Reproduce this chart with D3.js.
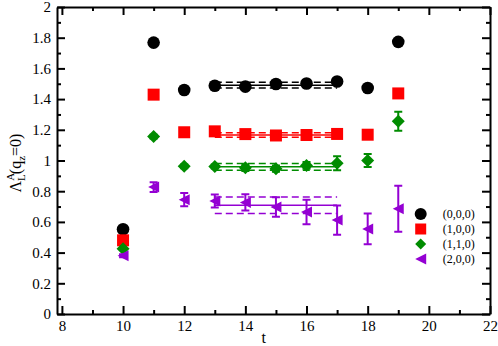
<!DOCTYPE html>
<html>
<head>
    <script src="https://d3js.org/d3.v7.min.js"></script>
    <style>
        body { margin: 0; background: #fff; }
        svg text { font-family: "Liberation Serif", "Times New Roman", "DejaVu Serif", serif; }
        .axis path, .axis line { stroke: #000; stroke-width: 2; }
        .axis text { font-size: 15px; fill: #000; }
        .legend text { font-size: 12px; }
    </style>
</head>
<body>
    <svg width="498" height="346"></svg>
    <script>
        // data
        var tValues = [10, 11, 12, 13, 14, 15, 16, 17, 18, 19];
        var labels = ["(0,0,0)", "(1,0,0)", "(1,1,0)", "(2,0,0)"];
        var v000 = [0.552, 1.768, 1.459, 1.487, 1.481, 1.498, 1.502, 1.515, 1.472, 1.773];
        var e000 = [0.004, 0.005, 0.004, 0.004, 0.004, 0.004, 0.004, 0.005, 0.005, 0.006];
        var v100 = [0.480, 1.429, 1.184, 1.190, 1.172, 1.163, 1.166, 1.173, 1.168, 1.437];
        var e100 = [0.004, 0.005, 0.005, 0.005, 0.005, 0.006, 0.006, 0.008, 0.008, 0.010];
        var v110 = [0.425, 1.156, 0.962, 0.961, 0.952, 0.947, 0.968, 0.982, 1.000, 1.255];
        var e110 = [0.008, 0.012, 0.012, 0.013, 0.020, 0.020, 0.022, 0.045, 0.043, 0.062];
        var v200 = [0.380, 0.827, 0.745, 0.736, 0.727, 0.697, 0.664, 0.612, 0.554, 0.686];
        var e200 = [0.010, 0.032, 0.043, 0.043, 0.053, 0.063, 0.080, 0.095, 0.100, 0.150];
        // plateau fits over t = 13..17
        var fitRange = [13, 17];
        var fitValues = [1.491, 1.166, 0.959, 0.708];
        var fitErrors = [0.018, 0.014, 0.022, 0.054];

        var colors = ["#000000", "#ff0000", "#008c00", "#9400d3"];
        var shapes = ["circle", "square", "diamond", "triangle"];
        var seriesVals = [v000, v100, v110, v200];
        var seriesErrs = [e000, e100, e110, e200];

        var serif = "Liberation Serif, Times New Roman, DejaVu Serif, serif";

        var svg = d3.select("svg"),
            margin = {top: 7, right: 8, bottom: 32, left: 57},
            width = +svg.attr("width") - margin.left - margin.right,
            height = +svg.attr("height") - margin.top - margin.bottom;

        var x = d3.scaleLinear().domain([7.84, 22]).range([0, width]);
        var y = d3.scaleLinear().domain([0, 2]).range([height, 0]);

        var g = svg.append("g").attr("transform", "translate(" + margin.left + "," + margin.top + ")");

        var xMajor = d3.range(8, 22.01, 2), xMinor = d3.range(9, 22, 2);
        var yMajor = d3.range(0, 2.01, 0.2), yMinor = d3.range(0.1, 2, 0.2);

        // marker paths, r = half size in px
        function symbol(shape, r) {
            if (shape === "circle") return d3.symbol().type(d3.symbolCircle).size(Math.PI * r * r)();
            if (shape === "square") return "M" + -r + "," + -r + "H" + r + "V" + r + "H" + -r + "Z";
            if (shape === "diamond") return "M0," + -r + "L" + r + ",0L0," + r + "L" + -r + ",0Z";
            return "M" + -r + ",0L" + r + "," + -r + "L" + r + "," + r + "Z";
        }
        var markerR = [6.3, 6, 6.5, 5.5];
        var legendR = [6, 5.5, 5.5, 5.5];

        // fit lines
        seriesVals.forEach(function(vals, i) {
            var lines = [
                {v: fitValues[i], dash: null},
                {v: fitValues[i] + fitErrors[i], dash: "7,4"},
                {v: fitValues[i] - fitErrors[i], dash: "7,4"}
            ];
            g.selectAll(null)
                .data(lines)
                .enter().append("line")
                .attr("x1", x(fitRange[0]))
                .attr("x2", x(fitRange[1]))
                .attr("y1", d => y(d.v))
                .attr("y2", d => y(d.v))
                .attr("stroke", colors[i])
                .attr("stroke-width", 1.5)
                .attr("stroke-dasharray", d => d.dash);
        });

        // error bars and markers
        seriesVals.forEach(function(vals, i) {
            var pts = tValues.map((t, j) => ({t: t, v: vals[j], e: seriesErrs[i][j]}));
            var eb = g.append("g").attr("stroke", colors[i]).attr("stroke-width", 2);
            eb.selectAll("path")
                .data(pts)
                .enter().append("path")
                .attr("fill", "none")
                .attr("d", function(d) {
                    var px = x(d.t), top = y(d.v + d.e), bot = y(d.v - d.e);
                    return "M" + px + "," + top + "V" + bot +
                        "M" + (px - 4) + "," + top + "H" + (px + 4) +
                        "M" + (px - 4) + "," + bot + "H" + (px + 4);
                });

            g.append("g").selectAll("path")
                .data(pts)
                .enter().append("path")
                .attr("d", symbol(shapes[i], markerR[i]))
                .attr("fill", colors[i])
                .attr("transform", d => "translate(" + x(d.t) + "," + y(d.v) + ")");
        });

        // axes, ticks pointing inward
        function drawAxis(axisFn, major, minor, transform, showLabels) {
            var a = g.append("g").attr("class", "axis").attr("transform", transform);
            a.call(axisFn.tickValues(major).tickSizeInner(-8).tickSizeOuter(0).tickPadding(6)
                .tickFormat(showLabels ? (d => d3.format("~g")(+d.toFixed(2))) : ""));
            a.attr("font-family", serif).attr("font-size", 15);
            a.selectAll("text").attr("font-family", serif);
            var m = g.append("g").attr("class", "axis").attr("transform", transform);
            m.call(axisFn.tickValues(minor).tickSizeInner(-4).tickSizeOuter(0).tickFormat(""));
            m.select(".domain").remove();
        }
        drawAxis(d3.axisBottom(x), xMajor, xMinor, "translate(0," + height + ")", true);
        drawAxis(d3.axisTop(x), xMajor, xMinor, "translate(0,0)", false);
        drawAxis(d3.axisLeft(y), yMajor, yMinor, "translate(0,0)", true);
        drawAxis(d3.axisRight(y), yMajor, yMinor, "translate(" + width + ",0)", false);

        // axis titles
        svg.append("text")
            .attr("x", margin.left + x(14.6))
            .attr("y", 343)
            .attr("text-anchor", "middle")
            .attr("font-family", serif)
            .style("font-size", "16px")
            .text("t");

        var yl = svg.append("text")
            .attr("transform", "translate(21,163) rotate(-90)")
            .attr("text-anchor", "middle")
            .attr("font-family", serif)
            .style("font-size", "16px");
        yl.append("tspan").text("Λ");
        yl.append("tspan").attr("dy", -7).style("font-size", "11px").text("A");
        yl.append("tspan").attr("dx", -8).attr("dy", 11).style("font-size", "11px").text("L");
        yl.append("tspan").attr("dy", -4).text("(q");
        yl.append("tspan").attr("dy", 4).style("font-size", "11px").text("z");
        yl.append("tspan").attr("dy", -4).text("=0)");

        // legend
        var legend = g.append("g")
            .attr("class", "legend")
            .attr("transform", "translate(" + (420.7 - margin.left) + "," + (214 - margin.top) + ")")
            .selectAll("g")
            .data(labels)
            .enter().append("g")
            .attr("transform", (d, i) => "translate(0," + (i * 15) + ")");

        legend.append("path")
            .attr("d", (d, i) => symbol(shapes[i], legendR[i]))
            .attr("fill", (d, i) => colors[i]);

        legend.append("text")
            .attr("x", 22)
            .attr("dy", "0.35em")
            .attr("font-family", serif)
            .text(d => d);
    </script>
</body>
</html>
